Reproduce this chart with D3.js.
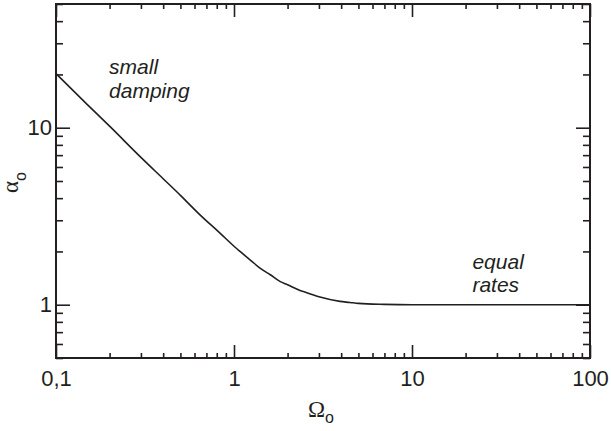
<!DOCTYPE html>
<html>
<head>
<meta charset="utf-8">
<script src="https://cdn.jsdelivr.net/npm/d3@7"></script>
<style>
  body { margin: 0; background: #fff; }
  text { fill: #231f20; }
</style>
</head>
<body>
<div id="chart"></div>
<script>
// Werte
var omega = [0.1, 0.15, 0.2, 0.3, 0.4, 0.5, 0.644, 0.834, 1.0, 1.081, 1.25, 1.4, 1.6, 1.81, 2.0, 2.35, 2.5, 3.04, 3.94, 4.48, 5.0, 7.0, 10, 30, 100];
var alpha = [20.2, 13.5, 10.2, 6.8, 5.15, 4.15, 3.22, 2.54, 2.14, 2.0, 1.77, 1.61, 1.477, 1.354, 1.295, 1.205, 1.18, 1.105, 1.044, 1.03, 1.017, 1.005, 1.0, 1.0, 1.0];

var xMajor = [0.1, 1, 10, 100];
var xMajorLabels = ["0,1", "1", "10", "100"];
var yMajor = [1, 10];
var yMajorLabels = ["1", "10"];

var notes = [
  { lines: ["small", "damping"], x: 0.2, y: 20 },
  { lines: ["equal", "rates"], x: 22, y: 1.6 }
];

var W = 611, H = 431;
var pLeft = 56, pRight = 590, pTop = 4, pBottom = 358;

var svg = d3.select("#chart").append("svg")
  .attr("width", W)
  .attr("height", H)
  .style("font-family", "'Liberation Sans', Arial, sans-serif");

var x = d3.scaleLog().domain([0.1, 100]).range([pLeft, pRight]);
var y = d3.scaleLog().domain([0.5, 50]).range([pBottom, pTop]);

function isMajor(v) {
  var l = Math.log10(v);
  return Math.abs(l - Math.round(l)) < 1e-6;
}

// Achsen: Striche nach innen, Haupt- und Nebenstriche
function styleTicks(g, len, minorLen, sign, horiz) {
  g.select(".domain").remove();
  g.selectAll(".tick line")
    .attr("stroke", "#231f20")
    .attr("stroke-width", 1.6)
    .attr(horiz ? "y2" : "x2", function (d) {
      return sign * (isMajor(d) ? len : minorLen);
    });
  g.selectAll(".tick text").remove();
}

svg.append("g")
  .attr("transform", "translate(0," + pBottom + ")")
  .call(d3.axisBottom(x).tickValues(x.ticks()).tickSize(0))
  .call(styleTicks, 13, 5, -1, true);
svg.append("g")
  .attr("transform", "translate(0," + pTop + ")")
  .call(d3.axisTop(x).tickValues(x.ticks()).tickSize(0))
  .call(styleTicks, 13, 5, 1, true);
svg.append("g")
  .attr("transform", "translate(" + pLeft + ",0)")
  .call(d3.axisLeft(y).tickValues(y.ticks()).tickSize(0))
  .call(styleTicks, 14, 7, 1, false);
svg.append("g")
  .attr("transform", "translate(" + pRight + ",0)")
  .call(d3.axisRight(y).tickValues(y.ticks()).tickSize(0))
  .call(styleTicks, 14, 7, -1, false);

// Beschriftungen der Achsen
var xLab = svg.append("g")
  .attr("transform", "translate(0," + pBottom + ")")
  .call(d3.axisBottom(x).tickValues(xMajor).tickSize(0).tickPadding(12)
    .tickFormat(function (d, i) { return xMajorLabels[i]; }));
xLab.select(".domain").remove();
xLab.selectAll("text").attr("font-size", 22).attr("font-family", "'Liberation Sans', Arial, sans-serif").style("fill", "#231f20");

var yLab = svg.append("g")
  .attr("transform", "translate(" + pLeft + ",0)")
  .call(d3.axisLeft(y).tickValues(yMajor).tickSize(0).tickPadding(4)
    .tickFormat(function (d, i) { return yMajorLabels[i]; }));
yLab.select(".domain").remove();
yLab.selectAll("text").attr("font-size", 22).attr("font-family", "'Liberation Sans', Arial, sans-serif").style("fill", "#231f20");

// Rahmen
svg.append("rect")
  .attr("x", pLeft)
  .attr("y", pTop)
  .attr("width", pRight - pLeft)
  .attr("height", pBottom - pTop)
  .attr("fill", "none")
  .attr("stroke", "#231f20")
  .attr("stroke-width", 2);

// Kurve
var line = d3.line()
  .x(function (d, i) { return x(omega[i]); })
  .y(function (d) { return y(d); })
  .curve(d3.curveMonotoneX);

svg.append("path")
  .datum(alpha)
  .attr("d", line)
  .attr("fill", "none")
  .attr("stroke", "#231f20")
  .attr("stroke-width", 1.6);

// Hinweise im Diagramm
notes.forEach(function (n) {
  var t = svg.append("text")
    .attr("x", x(n.x) - 0.5)
    .attr("y", y(n.y))
    .attr("font-size", 21)
    .attr("font-style", "italic");
  n.lines.forEach(function (s, i) {
    t.append("tspan")
      .attr("x", x(n.x) - 0.5)
      .attr("dy", i === 0 ? 0 : 23.5)
      .text(s);
  });
});

// Achsentitel
var xt = svg.append("text")
  .attr("x", 308)
  .attr("y", 417);
xt.append("tspan")
  .attr("font-family", "'Liberation Serif', 'Times New Roman', serif")
  .attr("font-size", 23)
  .text("Ω");
xt.append("tspan")
  .attr("font-size", 16)
  .attr("dy", 6)
  .text("o");

var yt = svg.append("text")
  .attr("transform", "translate(18,193) rotate(-90)");
yt.append("tspan")
  .attr("font-family", "'Liberation Serif', 'Times New Roman', serif")
  .attr("font-size", 23)
  .text("α");
yt.append("tspan")
  .attr("font-size", 16)
  .attr("dy", 8)
  .text("o");
</script>
</body>
</html>
